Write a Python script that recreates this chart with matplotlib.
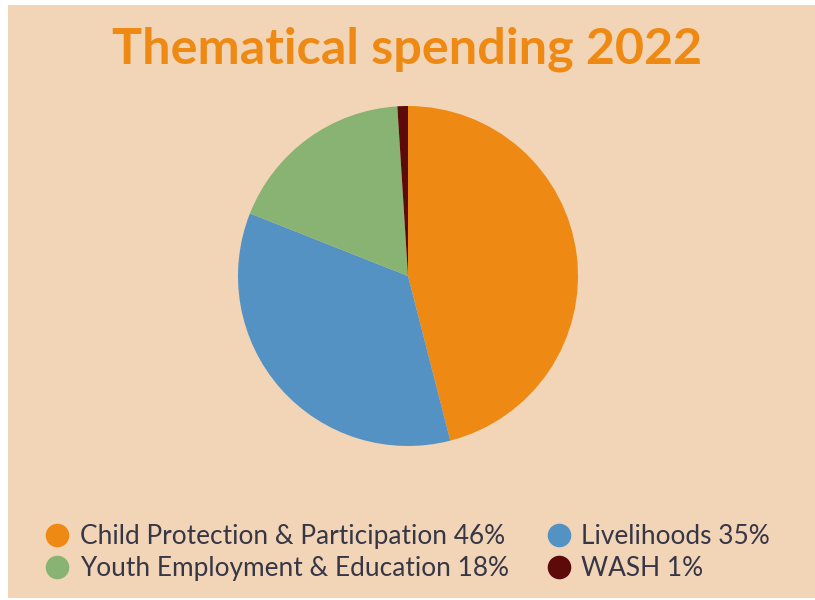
import matplotlib
matplotlib.use("Agg")
import matplotlib.pyplot as plt
from matplotlib.patches import Rectangle
from matplotlib.lines import Line2D

categories = ["Child Protection & Participation", "Livelihoods", "Youth Employment & Education", "WASH"]
shares = [46, 35, 18, 1]
colors = ["#EE8A14", "#5592C4", "#88B373", "#5C0A0A"]
title = "Thematical spending 2022"

W, H = 815, 600
fig = plt.figure(figsize=(W / 100, H / 100), dpi=100)
fig.patch.set_facecolor("white")
fig.patches.append(Rectangle((8 / W, 2 / H), 1 - 8 / W, 1 - 7 / H, transform=fig.transFigure,
                             facecolor="#F2D5B6", edgecolor="none", zorder=-10))

r = 170
cx, cy = 408, 276
ax = fig.add_axes([(cx - r) / W, (H - cy - r) / H, 2 * r / W, 2 * r / H])
ax.set_zorder(5)
ax.pie(shares, colors=colors, startangle=90, counterclock=False, radius=1,
       wedgeprops=dict(linewidth=0))
ax.set_xlim(-1, 1)
ax.set_ylim(-1, 1)
ax.set_aspect("equal")
ax.axis("off")

fig.text(407 / W, 1 - 49 / H, title, ha="center", va="center", fontsize=36.2,
         fontweight="bold", family="Lato", color="#EE8A14")

labels = [f"{c} {s}%" for c, s in zip(categories, shares)]
handles = [Line2D([], [], marker="o", linestyle="none", markersize=17,
                  markerfacecolor=col, markeredgecolor="none") for col in colors]
order = [0, 2, 1, 3]
leg = fig.legend([handles[i] for i in order], [labels[i] for i in order],
                 ncol=2, loc="center left", bbox_to_anchor=(44 / W, 1 - 552.5 / H),
                 frameon=False, handlelength=1.0, handletextpad=0.36, columnspacing=1.4,
                 labelspacing=0.28, borderpad=0, borderaxespad=0,
                 prop=dict(family="Lato", size=18.9))
for t in leg.get_texts():
    t.set_color("#363646")

fig.savefig("out.png", dpi=100)
